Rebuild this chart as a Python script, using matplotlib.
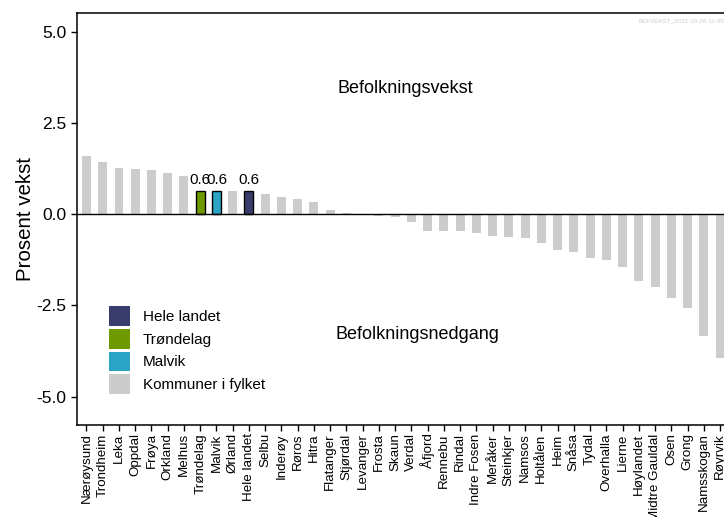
import matplotlib
matplotlib.use("Agg")
import matplotlib.pyplot as plt
from matplotlib.patches import Patch

plt.rcParams['font.family'] = ['Liberation Sans', 'DejaVu Sans']

names = ['Nærøysund', 'Trondheim', 'Leka', 'Oppdal', 'Frøya', 'Orkland', 'Melhus',
         'Trøndelag', 'Malvik', 'Ørland', 'Hele landet', 'Selbu', 'Inderøy', 'Røros',
         'Hitra', 'Flatanger', 'Stjørdal', 'Levanger', 'Frosta', 'Skaun', 'Verdal',
         'Åfjord', 'Rennebu', 'Rindal', 'Indre Fosen', 'Meråker', 'Steinkjer', 'Namsos',
         'Holtålen', 'Heim', 'Snåsa', 'Tydal', 'Overhalla', 'Lierne', 'Høylandet',
         'Midtre Gauldal', 'Osen', 'Grong', 'Namsskogan', 'Røyrvik']
vekst = [1.60, 1.43, 1.26, 1.24, 1.20, 1.13, 1.05,
         0.63, 0.63, 0.65, 0.63, 0.55, 0.47, 0.41,
         0.33, 0.11, 0.03, -0.01, -0.05, -0.09, -0.22,
         -0.47, -0.47, -0.47, -0.51, -0.60, -0.63, -0.65,
         -0.78, -0.98, -1.03, -1.20, -1.26, -1.45, -1.83,
         -1.99, -2.29, -2.57, -3.33, -3.93]

farger = {'Hele landet': '#383d6b', 'Trøndelag': '#6e9a00', 'Malvik': '#2ba3c4'}
graa = '#cccccc'

fig = plt.figure(figsize=(7.24, 5.17), dpi=100)
ax = fig.add_axes([0.106, 0.178, 0.902, 0.797])

x = list(range(len(names)))
for i, (n, v) in enumerate(zip(names, vekst)):
    if n in farger:
        ax.bar(i, v, width=0.55, color=farger[n], edgecolor='black', linewidth=1.0, zorder=3)
        ax.text(i, v + 0.12, f"{v:.1f}", ha='center', va='bottom', fontsize=11, zorder=4)
    else:
        ax.bar(i, v, width=0.55, color=graa, zorder=2)

ax.axhline(0, color='black', linewidth=1.0, zorder=5)

ax.set_xlim(-0.6, len(names) - 0.4)
ax.set_ylim(-5.78, 5.52)
ax.set_yticks([-5.0, -2.5, 0.0, 2.5, 5.0])
ax.set_yticklabels(['-5.0', '-2.5', '0.0', '2.5', '5.0'], fontsize=12.5)
ax.set_xticks(x)
ax.set_xticklabels(names, rotation=90, fontsize=9.6)
ax.tick_params(axis='both', direction='out', length=4, width=1, colors='black')
ax.tick_params(axis='x', pad=2)
ax.set_ylabel('Prosent vekst', fontsize=14.8, labelpad=1)
for s in ax.spines.values():
    s.set_linewidth(1.1)

ax.text(19.6, 3.45, 'Befolkningsvekst', ha='center', va='center', fontsize=13)
ax.text(20.4, -3.3, 'Befolkningsnedgang', ha='center', va='center', fontsize=13)

handles = [Patch(facecolor=farger['Hele landet']),
           Patch(facecolor=farger['Trøndelag']),
           Patch(facecolor=farger['Malvik']),
           Patch(facecolor=graa)]
labels = ['Hele landet', 'Trøndelag', 'Malvik', 'Kommuner i fylket']
ax.legend(handles, labels, loc='upper left', bbox_to_anchor=(0.04, 0.303), frameon=False,
          fontsize=11, handlelength=1.4, handleheight=1.6, handletextpad=0.8,
          labelspacing=0.2, borderaxespad=0)

fig.text(0.882, 0.957, 'BEFVEKST_2022-10-28-11-05', fontsize=4.5, color='#cccccc')

fig.savefig('out.png', dpi=100)
